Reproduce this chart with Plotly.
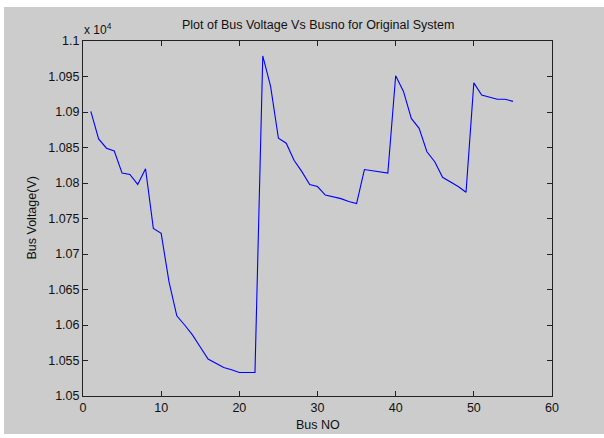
import plotly.graph_objects as go

bus_no = list(range(1, 56))
bus_voltage = [
    10901, 10862, 10849, 10845, 10814, 10812, 10798, 10820, 10736, 10729,
    10661, 10613, 10600, 10586, 10569, 10552, 10546, 10540, 10537, 10533,
    10533, 10533, 10979, 10936, 10863, 10856, 10832, 10816, 10798, 10795,
    10783, 10781, 10778, 10774, 10771, 10819, 10817, 10815, 10814, 10951,
    10929, 10891, 10877, 10844, 10830, 10808, 10802, 10795, 10787, 10941,
    10924, 10921, 10918, 10918, 10915,
]
y_tick_vals = [10500, 10550, 10600, 10650, 10700, 10750, 10800, 10850, 10900, 10950, 11000]
y_tick_text = ["1.05", "1.055", "1.06", "1.065", "1.07", "1.075", "1.08", "1.085", "1.09", "1.095", "1.1"]
x_tick_vals = [0, 10, 20, 30, 40, 50, 60]

FONT = "Liberation Sans, Arial, sans-serif"
GREY = "#CCCCCC"

fig = go.Figure()
fig.add_trace(go.Scatter(
    x=bus_no, y=bus_voltage, mode="lines",
    line=dict(color="#0000FF", width=1.1),
    showlegend=False, hoverinfo="skip",
))

W, H = 604, 438
L, R, T, B = 83, 52, 41, 42
pw, ph = W - L - R, H - T - B

def px_x(p):
    return (p - L) / pw

def px_y(p):
    return 1 - (p - T) / ph

fig.update_layout(
    width=W, height=H,
    margin=dict(l=L, r=R, t=T, b=B, pad=0),
    paper_bgcolor="white",
    plot_bgcolor="white",
    font=dict(family=FONT, size=12, color="#111111"),
    shapes=[dict(
        type="rect", xref="paper", yref="paper", layer="below",
        x0=px_x(4), x1=px_x(604), y0=px_y(434), y1=px_y(7),
        fillcolor=GREY, line=dict(width=0),
    )],
    annotations=[
        dict(text="Plot of Bus Voltage Vs Busno for Original System",
             xref="paper", yref="paper", x=0.5, y=px_y(25), xanchor="center",
             yanchor="middle", showarrow=False, font=dict(size=12.5, family=FONT, color="#111111")),
        dict(text="x 10<sup>4</sup>", xref="paper", yref="paper",
             x=px_x(82), y=px_y(29), xanchor="left", yanchor="middle",
             showarrow=False, font=dict(size=12, family=FONT, color="#111111")),
        dict(text="Bus NO", xref="paper", yref="paper", x=0.5, y=px_y(425),
             xanchor="center", yanchor="middle", showarrow=False,
             font=dict(size=12.5, family=FONT, color="#111111")),
        dict(text="Bus Voltage(V)", xref="paper", yref="paper", x=px_x(31), y=0.5,
             xanchor="center", yanchor="middle", textangle=-90, showarrow=False,
             font=dict(size=12.5, family=FONT, color="#111111")),
    ],
)
fig.update_xaxes(
    range=[0, 60], tickvals=x_tick_vals, ticks="inside", ticklen=5,
    tickcolor="#222222", showline=True, linecolor="#222222", linewidth=1,
    mirror="allticks", showgrid=False, zeroline=False,
    tickfont=dict(size=12.5, family=FONT, color="#111111"),
)
fig.update_yaxes(
    range=[10500, 11000], tickvals=y_tick_vals, ticktext=y_tick_text,
    ticks="inside", ticklen=5, tickcolor="#222222", showline=True,
    linecolor="#222222", linewidth=1, mirror="allticks", showgrid=False,
    zeroline=False, tickfont=dict(size=12.5, family=FONT, color="#111111"),
)

fig.write_html(
    "out.html",
    config={"displayModeBar": False, "staticPlot": True},
    post_script="document.body.style.margin='0';document.body.style.padding='0';",
)
